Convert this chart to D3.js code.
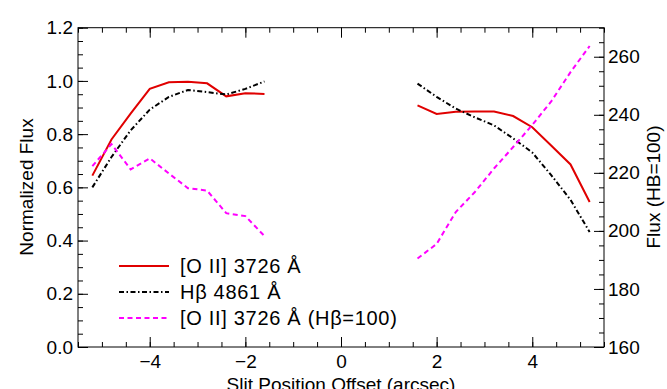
<!DOCTYPE html>
<html>
<head>
<meta charset="utf-8">
<script src="https://cdn.jsdelivr.net/npm/d3@7"></script>
<style>
    body { margin: 0; background: #fff; }
    svg { display: block; font-family: "Liberation Sans", Arial, Helvetica, sans-serif; }
    .axis text { font-size: 19px; fill: #000; }
    .axis line { stroke: #000; stroke-width: 1; }
</style>
</head>
<body>
<svg id="svg-main" width="667" height="389"></svg>
<script>
// slit offsets (arcsec), two sides of the slit
var offsetsLeft = [-5.2, -4.8, -4.4, -4.0, -3.6, -3.2, -2.8, -2.4, -2.0, -1.6];
var offsetsRight = [1.6, 2.0, 2.4, 2.8, 3.2, 3.6, 4.0, 4.4, 4.8, 5.2];

// normalized flux, [O II] 3726
var oiiLeft = [0.644, 0.780, 0.877, 0.970, 0.995, 0.997, 0.991, 0.942, 0.954, 0.951];
var oiiRight = [0.908, 0.876, 0.884, 0.885, 0.885, 0.868, 0.826, 0.756, 0.686, 0.545];

// normalized flux, Hbeta 4861
var hbLeft = [0.600, 0.714, 0.814, 0.892, 0.940, 0.966, 0.958, 0.949, 0.970, 0.998];
var hbRight = [0.990, 0.940, 0.896, 0.863, 0.833, 0.784, 0.731, 0.645, 0.553, 0.432];

// [O II] relative to Hbeta=100 (right axis)
var ratioLeft = [222.3, 229.9, 221.2, 225.0, 219.8, 214.7, 213.9, 206.1, 205.1, 198.2];
var ratioRight = [190.5, 195.5, 206.5, 213.4, 221.5, 228.9, 236.5, 244.7, 254.7, 263.7];

var xTicks = [-4, -2, 0, 2, 4];
var yTicks = [0, 0.2, 0.4, 0.6, 0.8, 1.0, 1.2];
var y2Ticks = [160, 180, 200, 220, 240, 260];

var legendLabels = ["[O II] 3726 Å", "Hβ 4861 Å", "[O II] 3726 Å (Hβ=100)"];

function plot() {
    var svg = d3.select("svg");
    var left = 78, right = 604, top = 27.7, bottom = 347;

    var x = d3.scaleLinear().domain([-5.5, 5.5]).range([left, right]);
    var y = d3.scaleLinear().domain([0, 1.2]).range([bottom, top]);
    var y2 = d3.scaleLinear().domain([160, 270]).range([bottom, top]);

    var fmtMinus = function (d) { return d < 0 ? "\u2212" + Math.abs(d) : "" + d; };

    // bottom axis, ticks pointing in
    svg.append("g").attr("class", "axis")
        .attr("transform", "translate(0," + bottom + ")")
        .call(d3.axisBottom(x).tickValues(d3.range(-5.5, 5.51, 0.5)).tickSize(-5).tickFormat(""));
    svg.append("g").attr("class", "axis")
        .attr("transform", "translate(0," + bottom + ")")
        .call(d3.axisBottom(x).tickValues(xTicks).tickSize(-10).tickPadding(8).tickFormat(fmtMinus));

    // top mirror ticks
    svg.append("g").attr("class", "axis")
        .attr("transform", "translate(0," + top + ")")
        .call(d3.axisTop(x).tickValues(d3.range(-5.5, 5.51, 0.5)).tickSize(-5).tickFormat(""));
    svg.append("g").attr("class", "axis")
        .attr("transform", "translate(0," + top + ")")
        .call(d3.axisTop(x).tickValues(xTicks).tickSize(-10).tickFormat(""));

    // left axis
    svg.append("g").attr("class", "axis")
        .attr("transform", "translate(" + left + ",0)")
        .call(d3.axisLeft(y).tickValues(d3.range(0, 1.201, 0.05)).tickSize(-5).tickFormat(""));
    svg.append("g").attr("class", "axis")
        .attr("transform", "translate(" + left + ",0)")
        .call(d3.axisLeft(y).tickValues(yTicks).tickSize(-10).tickPadding(5).tickFormat(d3.format(".1f")));

    // right axis
    svg.append("g").attr("class", "axis")
        .attr("transform", "translate(" + right + ",0)")
        .call(d3.axisRight(y2).tickValues(d3.range(160, 270.1, 5)).tickSize(-5).tickFormat(""));
    svg.append("g").attr("class", "axis")
        .attr("transform", "translate(" + right + ",0)")
        .call(d3.axisRight(y2).tickValues(y2Ticks).tickSize(-10).tickPadding(4).tickFormat(d3.format("d")));

    svg.selectAll(".axis path.domain").remove();

    svg.append("rect")
        .attr("x", left).attr("y", top)
        .attr("width", right - left).attr("height", bottom - top)
        .attr("fill", "none").attr("stroke", "#000").attr("stroke-width", 1);

    // axis titles
    svg.append("text")
        .attr("transform", "translate(33,187) rotate(-90)")
        .attr("text-anchor", "middle").style("font-size", "19px")
        .text("Normalized Flux");
    svg.append("text")
        .attr("transform", "translate(660,187) rotate(-90)")
        .attr("text-anchor", "middle").style("font-size", "19px")
        .text("Flux (HB=100)");
    svg.append("text")
        .attr("x", x(0)).attr("y", 391)
        .attr("text-anchor", "middle").style("font-size", "19px")
        .text("Slit Position Offset (arcsec)");

    var series = [
        { xs: offsetsLeft, ys: oiiLeft, sc: y, color: "#e00000", dash: null },
        { xs: offsetsRight, ys: oiiRight, sc: y, color: "#e00000", dash: null },
        { xs: offsetsLeft, ys: hbLeft, sc: y, color: "#000", dash: "5,2.5,1.5,2.5" },
        { xs: offsetsRight, ys: hbRight, sc: y, color: "#000", dash: "5,2.5,1.5,2.5" },
        { xs: offsetsLeft, ys: ratioLeft, sc: y2, color: "#ff00ff", dash: "5,3.5" },
        { xs: offsetsRight, ys: ratioRight, sc: y2, color: "#ff00ff", dash: "5,3.5" }
    ];

    series.forEach(function (s) {
        var line = d3.line()
            .x(function (d, i) { return x(s.xs[i]); })
            .y(function (d) { return s.sc(d); });
        svg.append("path")
            .datum(s.ys)
            .attr("d", line)
            .attr("fill", "none")
            .attr("stroke", s.color)
            .attr("stroke-width", 2)
            .attr("stroke-dasharray", s.dash);
    });

    // legend
    var legendStyles = [
        { color: "#e00000", dash: null },
        { color: "#000", dash: "5,2.5,1.5,2.5" },
        { color: "#ff00ff", dash: "5,3.5" }
    ];
    var lg = svg.append("g").attr("transform", "translate(119,266)");
    legendLabels.forEach(function (lbl, i) {
        var row = lg.append("g").attr("transform", "translate(0," + (i * 26) + ")");
        row.append("line")
            .attr("x1", 0).attr("x2", 50).attr("y1", 0).attr("y2", 0)
            .attr("stroke", legendStyles[i].color)
            .attr("stroke-width", 2)
            .attr("stroke-dasharray", legendStyles[i].dash);
        row.append("text")
            .attr("x", 61).attr("y", 7)
            .style("font-size", "20px")
            .style("letter-spacing", "0.7px")
            .text(lbl);
    });
}

plot();
</script>
</body>
</html>
